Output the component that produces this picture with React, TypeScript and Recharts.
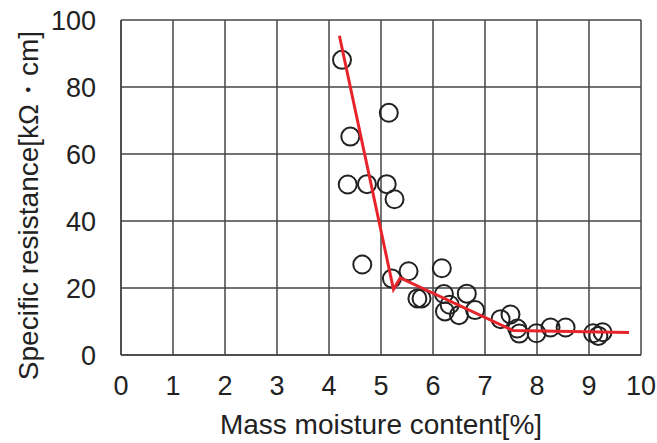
import { ScatterChart, Scatter, XAxis, YAxis, CartesianGrid } from "recharts";

// measured samples
const moisture = [
  4.25, 5.15, 4.41, 4.36, 4.73, 5.11, 5.26, 4.64, 5.21, 5.53,
  5.7, 5.78, 6.17, 6.21, 6.32, 6.23, 6.5, 6.65, 6.81, 7.3,
  7.49, 7.62, 7.66, 7.99, 8.26, 8.55, 9.08, 9.18, 9.26,
];
const resistance = [
  88.1, 72.3, 65.2, 50.9, 51, 51, 46.5, 27, 22.8, 25,
  16.9, 16.9, 25.9, 18.2, 15, 13, 11.9, 18.3, 13.4, 10.7,
  12.1, 7.9, 6.4, 6.5, 8.2, 8.2, 6.5, 5.7, 6.8,
];

// fitted trend line (polyline vertices)
const fitX = [4.2, 5.24, 5.37, 7.54, 9.77];
const fitY = [95.3, 19.6, 23, 7.3, 6.7];

const xTicks = [0, 1, 2, 3, 4, 5, 6, 7, 8, 9, 10];
const yTicks = [0, 20, 40, 60, 80, 100];

const points = moisture.map((x, i) => ({ x, y: resistance[i] }));
const fit = fitX.map((x, i) => ({ x, y: fitY[i] }));

const font = "'Liberation Sans', Arial, sans-serif";
const textColor = "#222";

const Ring = (p: any) => (
  <circle cx={p.cx} cy={p.cy} r={9} fill="none" stroke="#222" strokeWidth={2} />
);

export default function App() {
  return (
    <div style={{ position: "absolute", left: 0, top: 0, background: "#fff" }}>
      <ScatterChart
        width={657}
        height={443}
        margin={{ top: 20, right: 16, bottom: 0, left: 0 }}
        style={{ fontFamily: font }}
      >
        <CartesianGrid stroke="#444" strokeWidth={1.5} />
        <XAxis
          type="number"
          dataKey="x"
          domain={[0, 10]}
          ticks={xTicks}
          interval={0}
          height={88}
          tickLine={false}
          axisLine={{ stroke: "#444", strokeWidth: 1.5 }}
          tickMargin={15}
          tick={{ fontSize: 27, fill: textColor }}
          label={{
            content: (props: any) => {
              const vb = props.viewBox;
              return (
                <text
                  x={vb.x + vb.width / 2}
                  y={434}
                  textAnchor="middle"
                  fontSize={28}
                  fill={textColor}
                  fontFamily={font}
                >
                  Mass moisture content[%]
                </text>
              );
            },
          }}
        />
        <YAxis
          type="number"
          dataKey="y"
          domain={[0, 100]}
          ticks={yTicks}
          interval={0}
          width={121}
          tickLine={false}
          axisLine={{ stroke: "#444", strokeWidth: 1.5 }}
          tickMargin={19}
          tick={{ fontSize: 27, fill: textColor }}
          label={{
            content: (props: any) => {
              const vb = props.viewBox;
              const cx = 38;
              const cy = vb.y + vb.height / 2 + 18;
              return (
                <text
                  x={cx}
                  y={cy}
                  textAnchor="middle"
                  transform={`rotate(-90, ${cx}, ${cy})`}
                  fontSize={28}
                  fill={textColor}
                  fontFamily={font}
                >
                  Specific resistance[kΩ・cm]
                </text>
              );
            },
          }}
        />
        <Scatter data={points} shape={Ring} isAnimationActive={false} />
        <Scatter
          data={fit}
          line={{ stroke: "#e8242b", strokeWidth: 3 }}
          lineType="joint"
          shape={() => <g />}
          isAnimationActive={false}
        />
      </ScatterChart>
    </div>
  );
}
